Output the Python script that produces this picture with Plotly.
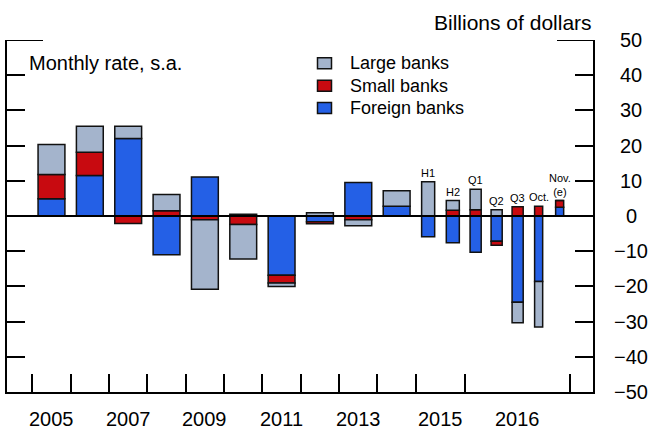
import plotly.graph_objects as go

# ---------------- data ----------------
periods = ["2005", "2006", "2007", "2008", "2009", "2010", "2011", "2012", "2013", "2014",
           "H1", "H2", "Q1", "Q2", "Q3", "Oct.", "Nov. (e)"]
freq = ["A"] * 10 + ["H"] * 2 + ["Q"] * 3 + ["M"] * 2
large_banks = [8.5, 7.4, 3.5, 4.6, -19.7, -9.8, -1.0, 0.9, -1.7, 4.4,
               9.7, 2.8, 5.8, 1.8, -5.8, -12.9, 0.0]
small_banks = [6.9, 6.6, -2.1, 1.5, -1.1, -2.4, -2.2, -0.6, -1.1, 0.0,
               0.0, 1.6, 1.8, -1.1, 2.6, 2.8, 1.9]
foreign_banks = [4.9, 11.5, 22.0, -11.0, 11.1, 0.5, -16.8, -1.6, 9.5, 2.8,
                 -5.9, -7.6, -10.3, -7.2, -24.5, -18.6, 2.5]
year_labels = ["2005", "2007", "2009", "2011", "2013", "2015", "2016"]
sub_labels = ["H1", "H2", "Q1", "Q2", "Q3", "Oct.", "Nov.<br>(e)"]
y_ticks = [50, 40, 30, 20, 10, 0, -10, -20, -30, -40, -50]

# ---------------- layout of the time axis ----------------
BLOCK_2015 = 1.286   # width of the 2015 block (in annual-bar units)
BLOCK_2016 = 2.738   # width of the 2016 block
n_annual = freq.count("A")
n_2015 = freq.count("H")
n_2016 = len(freq) - n_annual - n_2015
xpos = []
for i, f in enumerate(freq):
    if f == "A":
        xpos.append(i + 0.5)
    elif f == "H":
        j = i - n_annual
        xpos.append(n_annual + (j + 0.5) * BLOCK_2015 / n_2015)
    else:
        j = i - n_annual - n_2015
        xpos.append(n_annual + BLOCK_2015 + (j + 0.5) * BLOCK_2016 / n_2016)
width_by_freq = {"A": 0.70, "H": 0.34, "Q": 0.29, "M": 0.21}
widths = [width_by_freq[f] for f in freq]
tick_bounds = list(range(n_annual + 1)) + [n_annual + BLOCK_2015, n_annual + BLOCK_2015 + BLOCK_2016]
label_x = [0.5, 2.5, 4.5, 6.5, 8.5, n_annual + BLOCK_2015 / 2, n_annual + BLOCK_2015 + BLOCK_2016 / 2]
XMIN, XMAX = -0.66, 14.62

FONT = "Liberation Sans, Arial, sans-serif"
C_LARGE = "#A4B4CC"
C_SMALL = "#C80A10"
C_FOREIGN = "#2460E6"

# plot area in pixels (for placing decorations)
PL, PR, PT, PB = 7, 593, 40, 392
def px(xp):
    return (xp - PL) / (PR - PL)
def py(yp):
    return (PB - yp) / (PB - PT)

fig = go.Figure()
series = [("Foreign banks", foreign_banks, C_FOREIGN),
          ("Small banks", small_banks, C_SMALL),
          ("Large banks", large_banks, C_LARGE)]
for name, vals, col in series:
    fig.add_trace(go.Bar(x=xpos, y=vals, width=widths, name=name, showlegend=False,
                         marker=dict(color=col, line=dict(color="#111111", width=1.5))))

# manual legend (Large, Small, Foreign from top)
for r, (name, vals, col) in enumerate(reversed(series)):
    cy = 63.3 + r * 22.4
    fig.add_shape(type="rect", xref="paper", yref="paper",
                  x0=px(317.5), x1=px(331.5), y0=py(cy - 5.5), y1=py(cy + 5.5),
                  fillcolor=col, line=dict(color="#111111", width=1.5))
    fig.add_annotation(xref="paper", yref="paper", x=px(348), y=py(cy), text=name,
                       showarrow=False, xanchor="left", yanchor="middle",
                       font=dict(size=18, color="black", family=FONT))

# small period labels above bars
for i, lab in enumerate(sub_labels):
    k = n_annual + i
    top = sum(v for v in (large_banks[k], small_banks[k], foreign_banks[k]) if v > 0)
    fig.add_annotation(x=xpos[k], y=top, text=lab, showarrow=False, yanchor="bottom",
                       yshift=1, font=dict(size=11, color="black", family=FONT))

# year labels
for x, lab in zip(label_x, year_labels):
    fig.add_annotation(x=x, y=-50, text=lab, showarrow=False, yanchor="middle",
                       yshift=-27, font=dict(size=20, color="black", family=FONT))

# right-hand tick labels, centred
for v in y_ticks:
    txt = ("\u2212" + str(-v)) if v < 0 else str(v)
    fig.add_annotation(xref="paper", x=1, y=v, text=txt, showarrow=False,
                       xanchor="center", yanchor="middle", xshift=38,
                       font=dict(size=20, color="black", family=FONT))

fig.add_annotation(xref="paper", yref="paper", x=px(27), y=py(63), text="Monthly rate, s.a.",
                   showarrow=False, xanchor="left", yanchor="middle",
                   font=dict(size=20, color="black", family=FONT))
fig.add_annotation(xref="paper", yref="paper", x=px(594), y=py(22), text="Billions of dollars",
                   showarrow=False, xanchor="right", yanchor="middle",
                   font=dict(size=21, color="black", family=FONT))

# zero line and longer top ticks
fig.add_shape(type="line", xref="paper", yref="y", x0=0, x1=1, y0=0, y1=0,
              line=dict(color="black", width=2), layer="above")
fig.add_shape(type="line", xref="paper", yref="y", x0=0, x1=36 / 586, y0=50, y1=50,
              line=dict(color="black", width=2))
fig.add_shape(type="line", xref="paper", yref="y", x0=1 - 36 / 586, x1=1, y0=50, y1=50,
              line=dict(color="black", width=2))

fig.update_layout(
    width=649, height=430,
    margin=dict(l=PL, r=649 - PR, t=PT, b=430 - PB, autoexpand=False),
    barmode="relative",
    plot_bgcolor="white", paper_bgcolor="white",
    font=dict(family=FONT, color="black"),
    showlegend=False,
    xaxis=dict(range=[XMIN, XMAX], tickvals=tick_bounds, ticks="inside", ticklen=18,
               tickwidth=2, tickcolor="black", showticklabels=False, showgrid=False,
               zeroline=False, showline=True, linecolor="black", linewidth=2,
               automargin=False),
    yaxis=dict(range=[-50, 50], side="right", tickvals=y_ticks,
               ticks="inside", ticklen=18, tickwidth=2, tickcolor="black",
               showline=True, linecolor="black", linewidth=2, mirror="ticks",
               showgrid=False, zeroline=False, showticklabels=False, automargin=False),
)

fig.write_html("out.html", config={"displayModeBar": False},
               post_script="document.body.style.margin='0';document.body.style.overflow='hidden';")
